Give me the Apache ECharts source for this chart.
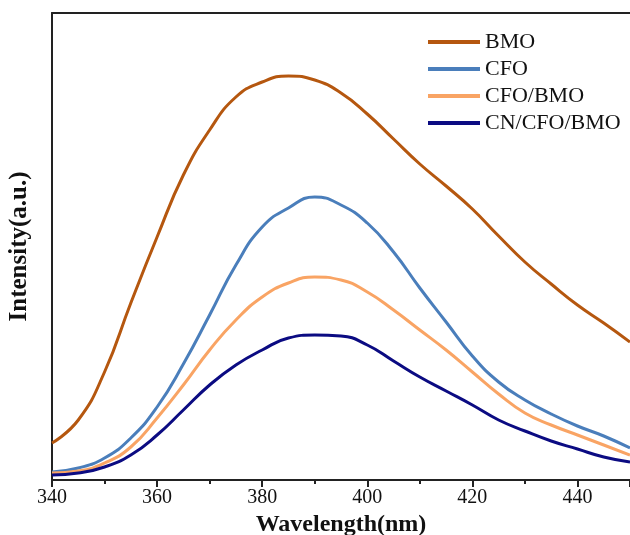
<!DOCTYPE html>
<html>
<head>
<meta charset="utf-8">
<script src="https://cdn.jsdelivr.net/npm/echarts@6/dist/echarts.min.js"></script>
<style>html,body{margin:0;padding:0;background:#fff}#c{width:630px;height:535px}</style>
</head>
<body>
<div id="c"></div>
<script>
const wavelength = [340,345,350,355,360,365,370,375,380,385,390,395,400,405,410,415,420,425,430,435,440,445,450];
const BMO = [37,60,108,177,243,305,350,383,398,404,400,387,366,341,316,294,271,244,218,196,175,157,138];
const CFO = [8,12,22,42,73,116,165,215,253,272,283,275,257,228,192,158,124,98,80,66,54,44,32];
const CFO_BMO = [7,9,17,33,62,95,130,160,183,197,203,200,188,170,150,130,108,86,67,55,45,35,25];
const CN_CFO_BMO = [5,7,13,25,45,70,95,115,130,142,145,144,135,119,103,89,75,60,49,39,31,23,18];
const seriesNames = ['BMO','CFO','CFO/BMO','CN/CFO/BMO'];
const seriesData = [BMO, CFO, CFO_BMO, CN_CFO_BMO];
const colors = ['#B5570F','#4A7EBB','#F9A464','#0B0B82'];
const xTicks = {min:340, max:450, interval:20};

const serif = '"Liberation Serif","Times New Roman",serif';
const chart = echarts.init(document.getElementById('c'), null, {renderer:'canvas'});
chart.setOption({
  animation:false,
  backgroundColor:'#fff',
  color: colors,
  grid:{left:52, right:0, top:13, bottom:55, containLabel:false, outerBoundsMode:'none'},
  legend:{
    orient:'vertical', left:428, top:31, padding:0,
    itemWidth:52, itemHeight:4, itemGap:5,
    icon:'rect',
    textStyle:{fontFamily:serif, fontSize:22, color:'#111', lineHeight:22},
    data: seriesNames
  },
  xAxis:[{
    type:'value', min:xTicks.min, max:xTicks.max, interval:xTicks.interval,
    position:'bottom',
    name:'Wavelength(nm)', nameLocation:'middle', nameGap:30,
    nameTextStyle:{fontFamily:serif, fontSize:24, fontWeight:'bold', color:'#111'},
    axisLine:{show:true, onZero:false, lineStyle:{color:'#222', width:2}},
    axisTick:{show:true, inside:false, length:7, lineStyle:{color:'#222', width:2}},
    minorTick:{show:true, splitNumber:2, length:4, lineStyle:{color:'#222', width:2}},
    axisLabel:{fontFamily:serif, fontSize:20, color:'#111', margin:8, showMaxLabel:false},
    splitLine:{show:false}
  },{
    type:'value', min:xTicks.min, max:xTicks.max, position:'top',
    axisLine:{show:true, onZero:false, lineStyle:{color:'#222', width:2}},
    axisTick:{show:false}, axisLabel:{show:false}, splitLine:{show:false}
  }],
  yAxis:{
    type:'value', min:0, max:467,
    name:'Intensity(a.u.)', nameLocation:'middle', nameGap:20,
    nameTextStyle:{fontFamily:serif, fontSize:25, fontWeight:'bold', color:'#111'},
    axisLine:{show:true, onZero:false, lineStyle:{color:'#222', width:2}},
    axisTick:{show:false}, axisLabel:{show:false}, splitLine:{show:false}
  },
  series: seriesNames.map((n,i)=>({
    name:n, type:'line', smooth:0.5, showSymbol:false, symbol:'none',
    data: wavelength.map((w,j)=>[w, seriesData[i][j]]),
    lineStyle:{width:3, color:colors[i]}
  }))
});
</script>
</body>
</html>
